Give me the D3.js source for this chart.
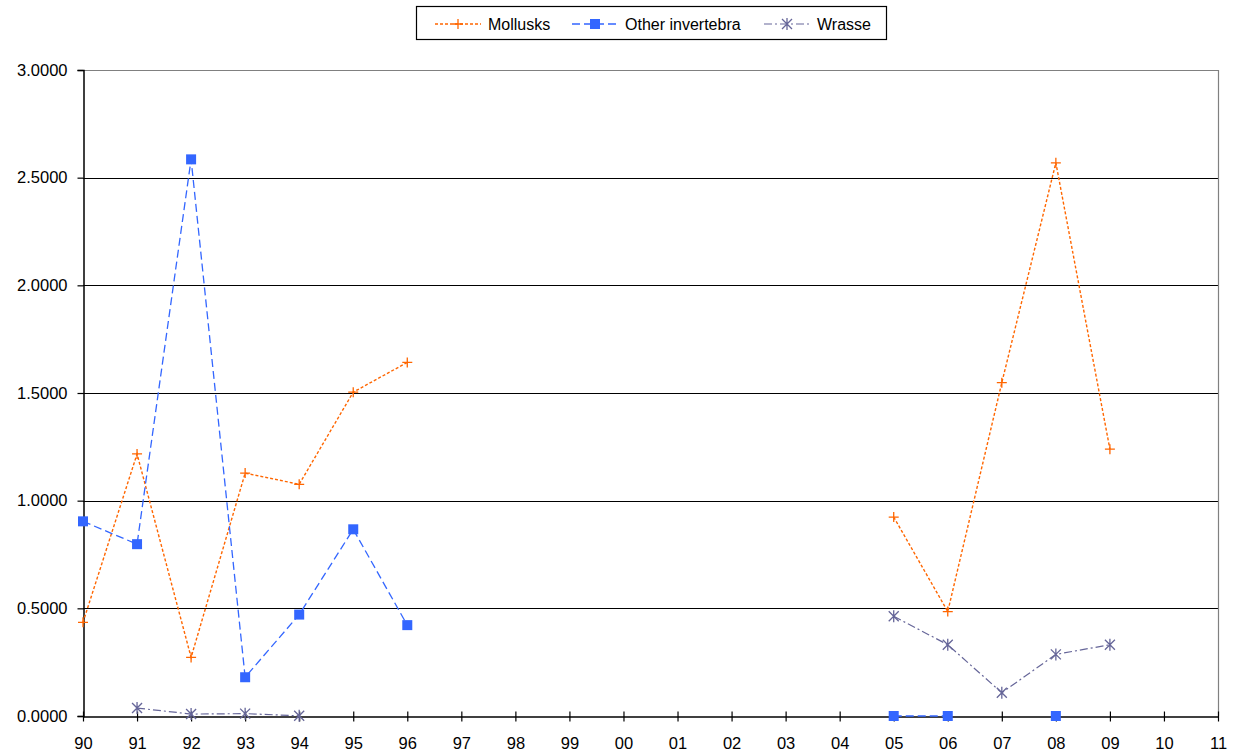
<!DOCTYPE html>
<html>
<head>
<meta charset="utf-8">
<script src="https://cdn.jsdelivr.net/npm/d3@7"></script>
<style>
  html, body { margin: 0; padding: 0; background: #fff; }
  svg { display: block; font-family: "Liberation Sans", Arial, sans-serif; }
</style>
</head>
<body>
<svg id="chart" width="1235" height="751"></svg>
<script>
// Survey years (two-digit labels) and index values per group
const years = ["90","91","92","93","94","95","96","97","98","99","00","01","02","03","04","05","06","07","08","09","10","11"];
const mollusks = [0.435, 1.217, 0.272, 1.128, 1.076, 1.504, 1.642, null, null, null, null, null, null, null, null, 0.924, 0.485, 1.548, 2.569, 1.239, null, null];
const otherInvertebra = [0.904, 0.798, 2.585, 0.180, 0.471, 0.867, 0.422, null, null, null, null, null, null, null, null, 0.0, 0.0, null, 0.0, null, null, null];
const wrasse = [null, 0.037, 0.009, 0.011, 0.001, null, null, null, null, null, null, null, null, null, null, 0.463, 0.331, 0.108, 0.286, 0.331, null, null];
const yTicks = [0, 0.5, 1.0, 1.5, 2.0, 2.5, 3.0];

const series = [
  { name: "Mollusks", values: mollusks, color: "#FF6600", dash: "3,2", width: 1.4, marker: "plus" },
  { name: "Other invertebra", values: otherInvertebra, color: "#3366FF", dash: "8,4", width: 1.3, marker: "square" },
  { name: "Wrasse", values: wrasse, color: "#666699", dash: "8,3,2,3", width: 1.2, marker: "star" }
];

const svg = d3.select("#chart");
const margin = { left: 83, right: 17, top: 70, bottom: 35 };
const W = 1235, H = 751;

const x = d3.scalePoint().domain(years).range([margin.left, W - margin.right]);
const y = d3.scaleLinear().domain([0, 3]).range([H - margin.bottom, margin.top]);

// horizontal gridlines
svg.append("g").selectAll("line")
  .data(yTicks.filter(t => t > 0))
  .join("line")
  .attr("x1", margin.left).attr("x2", W - margin.right)
  .attr("y1", d => Math.round(y(d)) + 0.5).attr("y2", d => Math.round(y(d)) + 0.5)
  .attr("stroke", d => d === 3 ? "#808080" : "#000")
  .attr("stroke-width", 1.2);

// right plot border
svg.append("line")
  .attr("x1", W - margin.right + 0.5).attr("x2", W - margin.right + 0.5)
  .attr("y1", y(3)).attr("y2", y(0))
  .attr("stroke", "#808080").attr("stroke-width", 1.2);

// y axis
const yAxis = d3.axisLeft(y).tickValues(yTicks).tickFormat(d3.format(".4f")).tickSize(6).tickPadding(10);
const gy = svg.append("g").attr("transform", `translate(${margin.left + 0.5},0)`).call(yAxis);
gy.select(".domain").attr("stroke", "#000").attr("stroke-width", 1.5);
gy.selectAll(".tick line").attr("stroke", "#000").attr("stroke-width", 1.2);
gy.selectAll(".tick text").attr("font-size", 16.5).attr("fill", "#000").attr("font-family", "Liberation Sans, Arial, sans-serif");

// x axis with ticks crossing the axis line
const xAxis = d3.axisBottom(x).tickSize(5).tickSizeOuter(0).tickPadding(16);
const gx = svg.append("g").attr("transform", `translate(0,${Math.round(y(0)) + 0.5})`).call(xAxis);
gx.select(".domain").attr("stroke", "#000").attr("stroke-width", 1.5);
gx.selectAll(".tick line").attr("y1", -5).attr("y2", 5).attr("stroke", "#000").attr("stroke-width", 1.2);
gx.selectAll(".tick text").attr("font-size", 16.5).attr("fill", "#000").attr("font-family", "Liberation Sans, Arial, sans-serif");

// marker drawing
function drawMarker(g, type, color) {
  if (type === "plus") {
    g.append("path").attr("d", "M-5,0H5M0,-5V5").attr("stroke", color).attr("stroke-width", 1.3).attr("fill", "none");
  } else if (type === "square") {
    g.append("rect").attr("x", -5).attr("y", -5).attr("width", 10).attr("height", 10).attr("fill", color);
  } else if (type === "star") {
    g.append("path").attr("d", "M-5,-5L5,5M-5,5L5,-5M0,-6V6").attr("stroke", color).attr("stroke-width", 1.3).attr("fill", "none");
  }
}

const line = d3.line()
  .defined(d => d.v !== null)
  .x(d => x(d.k))
  .y(d => y(d.v));

series.forEach(s => {
  const pts = years.map((k, i) => ({ k, v: s.values[i] }));
  svg.append("path")
    .datum(pts)
    .attr("d", line)
    .attr("fill", "none")
    .attr("stroke", s.color)
    .attr("stroke-width", s.width)
    .attr("stroke-dasharray", s.dash);
  svg.append("g").selectAll("g")
    .data(pts.filter(d => d.v !== null))
    .join("g")
    .attr("transform", d => `translate(${x(d.k)},${y(d.v)})`)
    .each(function () { drawMarker(d3.select(this), s.marker, s.color); });
});

// legend
const legend = svg.append("g");
legend.append("rect")
  .attr("x", 416.5).attr("y", 6.5).attr("width", 470).attr("height", 33)
  .attr("fill", "#fff").attr("stroke", "#000").attr("stroke-width", 1.2);
const legendX = [435, 572, 764];
series.forEach((s, i) => {
  const lg = legend.append("g").attr("transform", `translate(${legendX[i]},24)`);
  lg.append("line").attr("x1", 0).attr("x2", 46).attr("y1", 0).attr("y2", 0)
    .attr("stroke", s.color).attr("stroke-width", s.width).attr("stroke-dasharray", s.dash);
  const m = lg.append("g").attr("transform", "translate(23,0)");
  drawMarker(m, s.marker, s.color);
  lg.append("text").attr("x", 53).attr("y", 0).attr("dy", "0.35em")
    .attr("font-size", 16).attr("fill", "#000").text(s.name);
});
</script>
</body>
</html>
